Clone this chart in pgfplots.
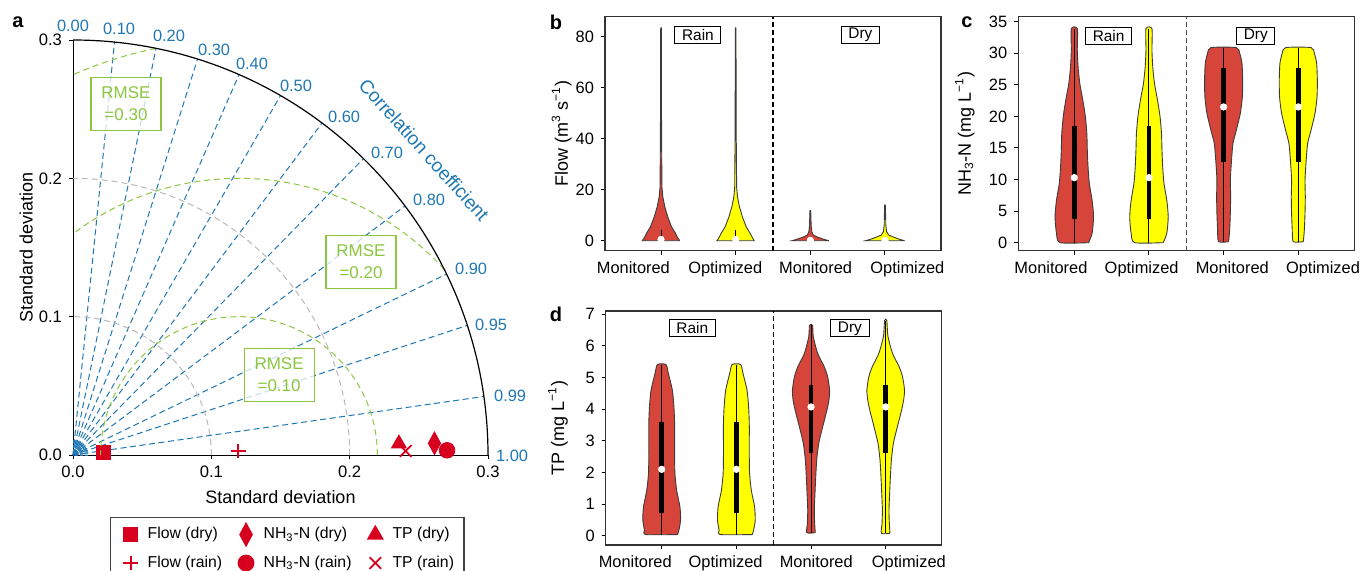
\documentclass[border=0pt]{standalone}
\usepackage{fontspec}
\setmainfont{Liberation Sans}
\usepackage{pgfplots}
\usepackage{pgfplotstable}
\pgfplotsset{compat=1.18}

\definecolor{tblue}{RGB}{31,120,180}
\definecolor{tgreen}{RGB}{140,198,63}
\definecolor{tgray}{RGB}{185,185,185}
\definecolor{mred}{RGB}{215,0,30}
\definecolor{vred}{RGB}{214,68,58}
\definecolor{vyel}{RGB}{255,255,0}
\definecolor{vline}{RGB}{60,60,60}

% violin outlines: offset from the category centre, value
\pgfplotstableread{
dx y
0.251 0
0.227 1
0.194 2.9
0.140 5.5
0.090 9.4
0.051 13.3
0.024 17.3
0.013 21
0.008 40
0.004 83.5
-0.004 83.5
-0.008 40
-0.013 21
-0.024 17.3
-0.051 13.3
-0.090 9.4
-0.140 5.5
-0.194 2.9
-0.227 1
-0.251 0
0.251 0
}\bRain
\pgfplotstableread{
dx y
0.247 0
0.187 0.5
0.107 1.3
0.040 2.2
0.020 3.5
0.011 6
0.005 11.8
-0.005 11.8
-0.011 6
-0.020 3.5
-0.040 2.2
-0.107 1.3
-0.187 0.5
-0.247 0
0.247 0
}\bDryM
\pgfplotstableread{
dx y
0.263 0
0.200 0.5
0.125 1.3
0.050 2.2
0.022 3.5
0.011 6
0.005 14
-0.005 14
-0.011 6
-0.022 3.5
-0.050 2.2
-0.125 1.3
-0.200 0.5
-0.263 0
0.263 0
}\bDryO
\pgfplotstableread{
dx y
0.191 0
0.239 1.5
0.258 4.1
0.239 6.7
0.201 9.4
0.184 12
0.174 14.7
0.168 17.3
0.148 20
0.114 22.6
0.074 25.2
0.051 27.8
0.040 30.5
0.040 33.9
-0.040 33.9
-0.040 30.5
-0.051 27.8
-0.074 25.2
-0.114 22.6
-0.148 20
-0.168 17.3
-0.174 14.7
-0.184 12
-0.201 9.4
-0.239 6.7
-0.258 4.1
-0.239 1.5
-0.191 0
0.191 0
}\cRain
\pgfplotstableread{
dx y
0.067 0.16
0.081 2
0.090 4.7
0.094 7.3
0.090 9.9
0.103 12.6
0.125 15.7
0.170 17.8
0.224 20.5
0.251 23.1
0.255 25.8
0.246 28.4
0.215 30
0.170 30.9
-0.170 30.9
-0.215 30
-0.246 28.4
-0.255 25.8
-0.251 23.1
-0.224 20.5
-0.170 17.8
-0.125 15.7
-0.103 12.6
-0.090 9.9
-0.094 7.3
-0.090 4.7
-0.081 2
-0.067 0.16
0.067 0.16
}\cDry
\pgfplotstableread{
dx y
0.213 0.04
0.231 0.18
0.253 0.5
0.244 0.92
0.200 1.44
0.177 1.97
0.173 2.5
0.173 3.02
0.173 3.55
0.164 4.07
0.143 4.6
0.089 5.13
0.057 5.41
-0.057 5.41
-0.089 5.13
-0.143 4.6
-0.164 4.07
-0.173 3.55
-0.173 3.02
-0.173 2.5
-0.177 1.97
-0.200 1.44
-0.244 0.92
-0.253 0.5
-0.231 0.18
-0.213 0.04
0.213 0.04
}\dRain
\pgfplotstableread{
dx y
0.057 0.1
0.049 0.39
0.044 0.81
0.053 1.34
0.063 1.86
0.076 2.39
0.103 2.92
0.156 3.44
0.213 3.97
0.240 4.28
0.249 4.6
0.223 5.02
0.177 5.34
0.089 5.76
0.031 6.28
0.020 6.65
-0.020 6.65
-0.031 6.28
-0.089 5.76
-0.177 5.34
-0.223 5.02
-0.249 4.6
-0.240 4.28
-0.213 3.97
-0.156 3.44
-0.103 2.92
-0.076 2.39
-0.063 1.86
-0.053 1.34
-0.044 0.81
-0.049 0.39
-0.057 0.1
0.057 0.1
}\dDryM
\pgfplotstableread{
dx y
0.057 0.08
0.049 0.39
0.044 0.81
0.053 1.34
0.063 1.86
0.076 2.39
0.103 2.92
0.156 3.44
0.213 3.97
0.240 4.28
0.252 4.6
0.226 5.02
0.180 5.34
0.092 5.76
0.030 6.3
0.015 6.8
-0.015 6.8
-0.030 6.3
-0.092 5.76
-0.180 5.34
-0.226 5.02
-0.252 4.6
-0.240 4.28
-0.213 3.97
-0.156 3.44
-0.103 2.92
-0.076 2.39
-0.063 1.86
-0.053 1.34
-0.044 0.81
-0.049 0.39
-0.057 0.08
0.057 0.08
}\dDryO

\pgfplotsset{
  vaxis/.style={
    anchor=south west, scale only axis, width=168pt, height=117pt,
    xmin=0.25, xmax=4.75, xtick={1,2,3,4}, xticklabels={,,,},
    extra x tick labels={Monitored,Optimized,Monitored,Optimized},
    extra x tick style={tick style={draw=none}},
    xtick pos=bottom, ytick pos=left, tick align=outside,
    major tick length=2pt, tick style={black, line width=0.5pt},
    axis line style={black!80, line width=0.55pt},
    ticklabel style={font=\fontsize{8.2}{10}\selectfont},
    ylabel style={font=\fontsize{9}{11}\selectfont, anchor=center},
    /pgf/number format/assume math mode=true,
    clip=false,
  },
  vio/.style={draw=vline, line width=0.45pt},
  vios/.style={vio, smooth, tension=0.4},
  whisk/.style={black, line width=0.5pt},
  qbox/.style={black, line width=2.3pt},
  med/.style={only marks, mark=*, mark size=1.6pt, white},
  rline/.style={tblue, line width=0.5pt, dash pattern=on 3pt off 1.8pt, forget plot},
}
\tikzset{
  tag/.style={draw=black, fill=white, line width=0.5pt, inner xsep=3.6pt,
    inner ysep=0.5pt, minimum height=8.5pt, font=\fontsize{7.7}{9}\selectfont},
  rmse/.style={draw=tgreen, fill=white, fill opacity=0.75, text opacity=1,
    text=tgreen, align=center, minimum width=35pt, minimum height=26.5pt,
    inner sep=1pt, line width=0.6pt, font=\fontsize{8.5}{11}\selectfont},
}

\begin{document}
\begin{tikzpicture}[font=\fontsize{8}{9.6}\selectfont]
\useasboundingbox (0,0) rectangle (680.5pt,285pt);

% ---------------- a: Taylor diagram
\begin{axis}[
  at={(36.5pt,57.5pt)}, anchor=south west,
  scale only axis, width=207.5pt, height=207.5pt,
  xmin=0, xmax=0.3, ymin=0, ymax=0.3,
  axis x line*=bottom, axis y line*=left,
  axis line style={black, line width=0.5pt},
  xtick={0,0.1,0.2,0.3}, ytick={0,0.1,0.2,0.3},
  tick align=outside, major tick length=2pt,
  tick style={black, line width=0.5pt},
  ticklabel style={font=\fontsize{8.3}{10}\selectfont},
  xticklabel style={/pgf/number format/fixed, /pgf/number format/fixed zerofill,
    /pgf/number format/precision=1},
  yticklabel style={/pgf/number format/fixed, /pgf/number format/fixed zerofill,
    /pgf/number format/precision=1},
  /pgf/number format/assume math mode=true,
  xlabel={Standard deviation}, ylabel={Standard deviation},
  label style={font=\fontsize{9}{11}\selectfont},
  xlabel style={at={(axis description cs:0.5,-0.101)}, anchor=center},
  ylabel style={at={(axis description cs:-0.113,0.5)}, anchor=center},
  clip=false,
  legend columns=3, legend cell align=left,
  legend image code/.code={%
    \path[draw=none, fill=none] (-7pt,-5.8pt) rectangle (3pt,5.8pt);
    \draw[#1] plot coordinates {(0pt,0pt)};},
  legend style={at={(0.0892,-0.1494)}, anchor=north west, draw=black!75,
    line width=0.6pt, font=\fontsize{7.9}{9.5}\selectfont,
    inner xsep=3pt, inner ysep=2.7pt, row sep=2.6pt, column sep=2.9pt},
]
\coordinate (O) at (axis cs:0,0);
\coordinate (C) at (axis cs:0.12,0);
\coordinate (R1) at (axis cs:0.0383,0.2538);
\coordinate (R2) at (axis cs:0.2082,0.1396);
\coordinate (R3) at (axis cs:0.149,0.0578);

\addplot[rline] coordinates {(0,0) (0.03,0.29850)};
\addplot[rline] coordinates {(0,0) (0.06,0.29394)};
\addplot[rline] coordinates {(0,0) (0.09,0.28618)};
\addplot[rline] coordinates {(0,0) (0.12,0.27495)};
\addplot[rline] coordinates {(0,0) (0.15,0.25981)};
\addplot[rline] coordinates {(0,0) (0.18,0.24)};
\addplot[rline] coordinates {(0,0) (0.21,0.21424)};
\addplot[rline] coordinates {(0,0) (0.24,0.18)};
\addplot[rline] coordinates {(0,0) (0.27,0.13077)};
\addplot[rline] coordinates {(0,0) (0.285,0.09367)};
\addplot[rline] coordinates {(0,0) (0.297,0.04232)};

\addplot[only marks, mark=square*, mark size=3.5pt, mred] coordinates {(0.0222,0.0022)};
\addlegendentry{Flow (dry)}
\addplot[only marks, mark=diamond*, mark size=5.7pt, mark options={xscale=0.72}, mred] coordinates {(0.2613,0.0085)};
\addlegendentry{NH\textsubscript{3}-N (dry)}
\addplot[only marks, mark=triangle*, mark size=4.3pt, mred] coordinates {(0.2356,0.0082)};
\addlegendentry{TP (dry)}
\addplot[only marks, mark=+, mark size=3.6pt, mred, line width=0.9pt] coordinates {(0.1195,0.0029)};
\addlegendentry{Flow (rain)}
\addplot[only marks, mark=*, mark size=3.9pt, mred] coordinates {(0.2704,0.0034)};
\addlegendentry{NH\textsubscript{3}-N (rain)}
\addplot[only marks, mark=x, mark size=4.1pt, mred, line width=0.9pt] coordinates {(0.2405,0.0029)};
\addlegendentry{TP (rain)}

\begin{scope}[tblue, inner sep=1pt, font=\fontsize{8.2}{10}\selectfont]
\node at (axis cs:0,0.3102) {0.00};
\node at (axis cs:0.0333,0.3080) {0.10};
\node at (axis cs:0.0694,0.3030) {0.20};
\node at (axis cs:0.1020,0.2928) {0.30};
\node at (axis cs:0.1294,0.2827) {0.40};
\node at (axis cs:0.1612,0.2668) {0.50};
\node at (axis cs:0.1960,0.2444) {0.60};
\node at (axis cs:0.2270,0.2184) {0.70};
\node at (axis cs:0.2574,0.1844) {0.80};
\node at (axis cs:0.2878,0.1345) {0.90};
\node at (axis cs:0.3022,0.0940) {0.95};
\node at (axis cs:0.3160,0.0427) {0.99};
\node at (axis cs:0.3174,-0.0007) {1.00};
\end{scope}
\node[tblue, rotate=-48, font=\fontsize{9.5}{11}\selectfont] at (axis cs:0.2538,0.2205) {Correlation coefficient};
\end{axis}

% reference arcs of the Taylor diagram
\begin{scope}[line width=0.5pt, dash pattern=on 3pt off 2pt]
\draw[tgray] ([xshift=69.167pt]O) arc[start angle=0, end angle=90, radius=69.167pt];
\draw[tgray] ([xshift=138.333pt]O) arc[start angle=0, end angle=90, radius=138.333pt];
\draw[tgreen] ([xshift=69.167pt]C) arc[start angle=0, end angle=180, radius=69.167pt];
\draw[tgreen] (C) ++(42.13:138.333pt) arc[start angle=42.13, end angle=126.87, radius=138.333pt];
\draw[tgreen] (C) ++(101.54:207.5pt) arc[start angle=101.54, end angle=113.55, radius=207.5pt];
\end{scope}
\foreach \a in {0,4.5,...,90}
  \draw[tblue, line width=0.35pt, dash pattern=on 1.5pt off 1pt] (O) ++(\a:1pt) -- ++(\a:6.5pt);
\draw[black, line width=0.6pt] ([xshift=207.5pt]O) arc[start angle=0, end angle=90, radius=207.5pt];
\node[rmse] at (R1) {RMSE\\=0.30};
\node[rmse] at (R2) {RMSE\\=0.20};
\node[rmse] at (R3) {RMSE\\=0.10};

% ---------------- b: flow
\begin{axis}[vaxis, at={(302.5pt,159.65pt)},
  ymin=-3.92, ymax=87.84, ytick={0,20,40,60,80},
  extra x ticks={0.63,1.86,3.07,4.30},
  ylabel={Flow (m\textsuperscript{3} s\textsuperscript{−1})},
  ylabel style={at={(axis description cs:-0.129,0.5)}},
]
\addplot[vio, fill=vred] table[x expr=\thisrow{dx}+1, y=y] \bRain;
\addplot[vio, fill=vyel] table[x expr=\thisrow{dx}+2, y=y] \bRain;
\addplot[vio, fill=vred] table[x expr=\thisrow{dx}+3, y=y] \bDryM;
\addplot[vio, fill=vyel] table[x expr=\thisrow{dx}+4, y=y] \bDryO;
\addplot[whisk] coordinates {(1,0) (1,4.2)};
\addplot[whisk] coordinates {(2,0) (2,4.2)};
\addplot[whisk] coordinates {(3,0) (3,0.9)};
\addplot[whisk] coordinates {(4,0) (4,0.9)};
\addplot[qbox] coordinates {(1,0.1) (1,1.2)};
\addplot[qbox] coordinates {(2,0.1) (2,1.2)};
\addplot[med] coordinates {(1,0.5) (2,0.5) (3,0.15) (4,0.15)};
\draw[black, line width=0.6pt, dash pattern=on 2.5pt off 1.5pt]
  ({axis cs:2.5,0}|-{rel axis cs:0,0}) -- ({axis cs:2.5,0}|-{rel axis cs:0,1});
\node[tag] at (axis cs:1.495,80.7) {Rain};
\node[tag] at (axis cs:3.67,80.7) {Dry};
\end{axis}

% ---------------- c: NH3-N
\begin{axis}[vaxis, at={(509.15pt,159.65pt)},
  ymin=-1.27, ymax=35.79, ytick={0,5,...,35},
  extra x ticks={0.687,1.902,3.116,4.331},
  ylabel={NH\textsubscript{3}-N (mg L\textsuperscript{−1})},
  ylabel style={at={(axis description cs:-0.159,0.5)}},
]
\addplot[vios, fill=vred] table[x expr=\thisrow{dx}+1, y=y] \cRain;
\addplot[vios, fill=vyel] table[x expr=\thisrow{dx}+2, y=y] \cRain;
\addplot[vios, fill=vred] table[x expr=\thisrow{dx}+3, y=y] \cDry;
\addplot[vios, fill=vyel] table[x expr=\thisrow{dx}+4, y=y] \cDry;
\addplot[whisk] coordinates {(1,0) (1,33.9)};
\addplot[whisk] coordinates {(2,0) (2,33.9)};
\addplot[whisk] coordinates {(3,0.16) (3,30.9)};
\addplot[whisk] coordinates {(4,0.16) (4,30.9)};
\addplot[qbox] coordinates {(1,3.7) (1,18.5)};
\addplot[qbox] coordinates {(2,3.7) (2,18.5)};
\addplot[qbox] coordinates {(3,12.8) (3,27.7)};
\addplot[qbox] coordinates {(4,12.8) (4,27.7)};
\addplot[med] coordinates {(1,10.3) (2,10.3) (3,21.5) (4,21.5)};
\draw[black!70, line width=0.6pt, dash pattern=on 2.5pt off 1.5pt]
  ({axis cs:2.5,0}|-{rel axis cs:0,0}) -- ({axis cs:2.5,0}|-{rel axis cs:0,1});
\node[tag] at (axis cs:1.46,32.8) {Rain};
\node[tag] at (axis cs:3.43,32.8) {Dry};
\end{axis}

% ---------------- d: TP
\begin{axis}[vaxis, at={(302.85pt,12.5pt)},
  ymin=-0.29, ymax=7.10, ytick={0,1,...,7},
  extra x ticks={0.646,1.856,3.07,4.31},
  ylabel={TP (mg L\textsuperscript{−1})},
  ylabel style={at={(axis description cs:-0.142,0.5)}},
]
\addplot[vios, fill=vred] table[x expr=\thisrow{dx}+1, y=y] \dRain;
\addplot[vios, fill=vyel] table[x expr=\thisrow{dx}+2, y=y] \dRain;
\addplot[vios, fill=vred] table[x expr=\thisrow{dx}+3, y=y] \dDryM;
\addplot[vios, fill=vyel] table[x expr=\thisrow{dx}+4, y=y] \dDryO;
\addplot[whisk] coordinates {(1,0.04) (1,5.41)};
\addplot[whisk] coordinates {(2,0.04) (2,5.41)};
\addplot[whisk] coordinates {(3,0.1) (3,6.65)};
\addplot[whisk] coordinates {(4,0.08) (4,6.8)};
\addplot[qbox] coordinates {(1,0.71) (1,3.6)};
\addplot[qbox] coordinates {(2,0.71) (2,3.6)};
\addplot[qbox] coordinates {(3,2.62) (3,4.76)};
\addplot[qbox] coordinates {(4,2.62) (4,4.76)};
\addplot[med] coordinates {(1,2.1) (2,2.1) (3,4.07) (4,4.07)};
\draw[black, line width=0.6pt, dash pattern=on 2.5pt off 1.5pt]
  ({axis cs:2.5,0}|-{rel axis cs:0,0}) -- ({axis cs:2.5,0}|-{rel axis cs:0,1});
\node[tag] at (axis cs:1.41,6.55) {Rain};
\node[tag] at (axis cs:3.52,6.55) {Dry};
\end{axis}

\begin{scope}[font=\bfseries\fontsize{10}{12}\selectfont]
\node at (9pt,274pt) {a};
\node at (278pt,274pt) {b};
\node at (483.5pt,274pt) {c};
\node at (278pt,128pt) {d};
\end{scope}
\end{tikzpicture}
\end{document}
